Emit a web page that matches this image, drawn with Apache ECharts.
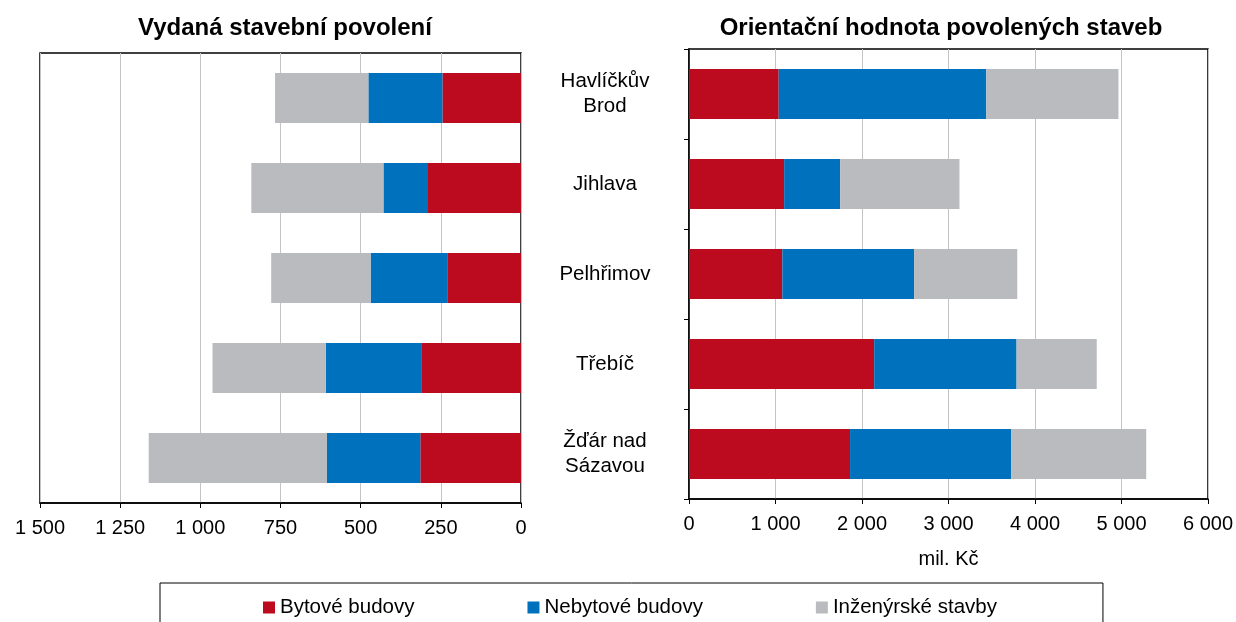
<!DOCTYPE html>
<html>
<head>
<meta charset="utf-8">
<script src="https://cdn.jsdelivr.net/npm/echarts@6/dist/echarts.min.js"></script>
<style>
  html, body { margin: 0; padding: 0; background: #fff; }
  #chart { width: 1236px; height: 622px; }
</style>
</head>
<body>
<div id="chart"></div>
<script>
// okresy
const districts = ['Havlíčkův\nBrod', 'Jihlava', 'Pelhřimov', 'Třebíč', 'Žďár nad\nSázavou'];
const seriesNames = ['Bytové budovy', 'Nebytové budovy', 'Inženýrské stavby'];
const colors = ['#bc0a1e', '#0071bc', '#b9bbbf'];

// vydana stavebni povoleni (pocet)
const permitsFlats = [245, 290, 228, 309, 314];
const permitsNonFlats = [231, 139, 241, 300, 291];
const permitsCivil = [291, 412, 310, 353, 556];

// orientacni hodnota (mil. Kc)
const valueFlats = [1037, 1100, 1079, 2141, 1862];
const valueNonFlats = [2400, 647, 1523, 1646, 1862];
const valueCivil = [1528, 1380, 1193, 927, 1562];

const leftTicks = { min: 0, max: 1500, interval: 250 };
const rightTicks = { min: 0, max: 6000, interval: 1000 };

function fmt(v) {
    return String(v).replace(/\B(?=(\d{3})+(?!\d))/g, ' ');
}

const chart = echarts.init(document.getElementById('chart'));
const font = 'Liberation Sans, Arial, sans-serif';

const leftData = [permitsFlats, permitsNonFlats, permitsCivil];
const rightData = [valueFlats, valueNonFlats, valueCivil];

let series = [];
seriesNames.forEach(function (name, i) {
    series.push({
        name: name, type: 'bar', stack: 'left',
        xAxisIndex: 0, yAxisIndex: 0,
        barWidth: 50, itemStyle: { color: colors[i] },
        data: leftData[i]
    });
    series.push({
        name: name, type: 'bar', stack: 'right',
        xAxisIndex: 1, yAxisIndex: 1,
        barWidth: 50, itemStyle: { color: colors[i] },
        data: rightData[i]
    });
});

const titleStyle = { fontFamily: font, fontSize: 24, fontWeight: 'bold', color: '#000' };

const option = {
    animation: false,
    textStyle: { fontFamily: font },
    title: [
        { text: 'Vydaná stavební povolení', left: 280, top: 11, textAlign: 'center', textStyle: titleStyle },
        { text: 'Orientační hodnota povolených staveb', left: 936, top: 11, textAlign: 'center', textStyle: titleStyle }
    ],
    legend: {
        data: seriesNames,
        left: 160, top: 583,
        icon: 'rect', itemWidth: 12, itemHeight: 12,
        itemGap: 113,
        padding: [14, 106, 20, 103],
        borderColor: '#000', borderWidth: 1,
        textStyle: { fontFamily: font, fontSize: 20.5, color: '#000' }
    },
    grid: [
        { left: 40, right: 715, top: 53, height: 450, show: true, borderColor: '#000', borderWidth: 1.5 },
        { left: 689, right: 27, top: 49, height: 450, show: true, borderColor: '#000', borderWidth: 1.5 }
    ],
    xAxis: [
        {
            type: 'value', gridIndex: 0, inverse: true,
            min: leftTicks.min, max: leftTicks.max, interval: leftTicks.interval,
            axisLine: { show: true, lineStyle: { color: '#000', width: 1.5 } },
            axisTick: { show: true, length: 5, lineStyle: { color: '#000' } },
            axisLabel: { formatter: fmt, fontSize: 20, color: '#000', margin: 15, fontFamily: font },
            splitLine: { show: true, lineStyle: { color: '#c4c4c4', width: 1 } }
        },
        {
            type: 'value', gridIndex: 1,
            min: rightTicks.min, max: rightTicks.max, interval: rightTicks.interval,
            name: 'mil. Kč', nameLocation: 'middle', nameGap: 50,
            nameTextStyle: { fontSize: 20, color: '#000', fontFamily: font },
            axisLine: { show: true, lineStyle: { color: '#000', width: 1.5 } },
            axisTick: { show: true, length: 5, lineStyle: { color: '#000' } },
            axisLabel: { formatter: fmt, fontSize: 20, color: '#000', margin: 15, fontFamily: font },
            splitLine: { show: true, lineStyle: { color: '#c4c4c4', width: 1 } }
        }
    ],
    yAxis: [
        {
            type: 'category', gridIndex: 0, inverse: true, data: districts,
            axisLine: { show: false }, axisTick: { show: false }, axisLabel: { show: false }
        },
        {
            type: 'category', gridIndex: 1, inverse: true, data: districts,
            axisLine: { show: true, lineStyle: { color: '#000', width: 1.5 } },
            axisTick: { show: true, length: 5, lineStyle: { color: '#000' } },
            axisLabel: {
                fontSize: 20.5, color: '#000', align: 'center', margin: 84,
                lineHeight: 25, fontFamily: font
            }
        }
    ],
    series: series
};

chart.setOption(option);
</script>
</body>
</html>
